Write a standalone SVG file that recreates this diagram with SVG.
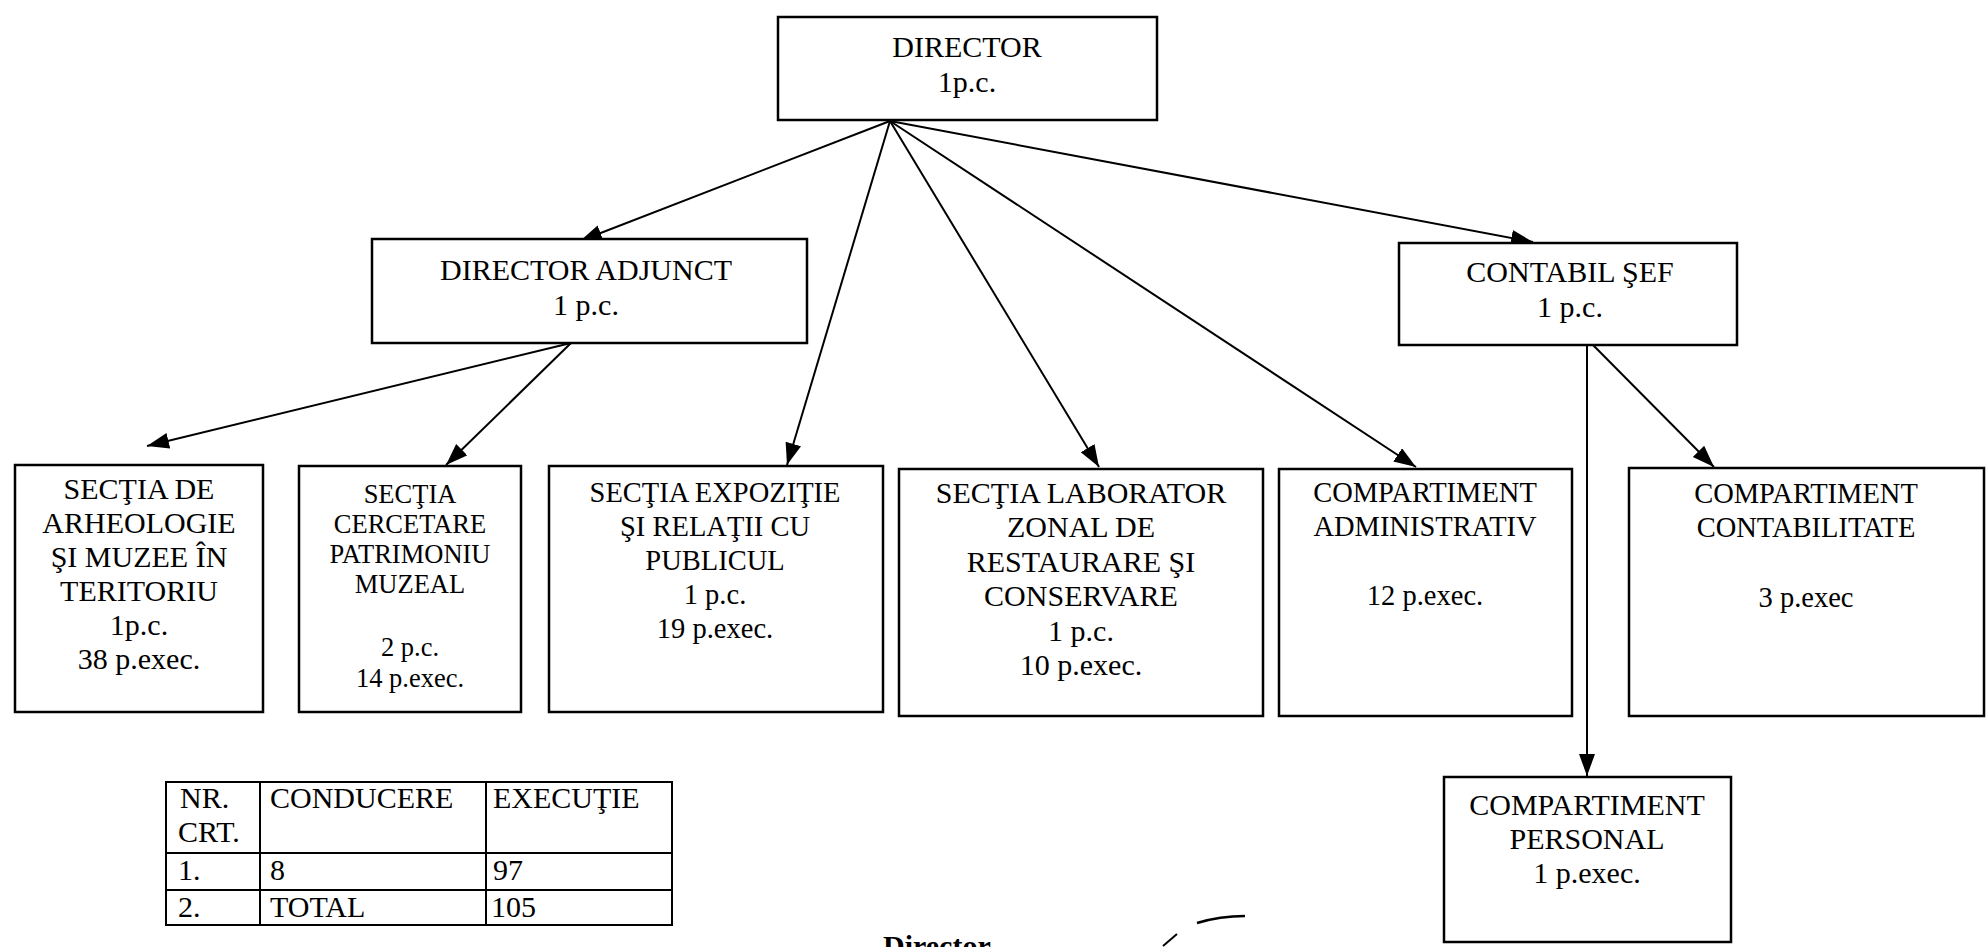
<svg xmlns="http://www.w3.org/2000/svg" width="1986" height="947" viewBox="0 0 1986 947">
<style>
.box{fill:#fff;stroke:#000;stroke-width:2.5}
.t{font-family:"Liberation Serif","Times New Roman",serif;font-size:30px;fill:#000;text-anchor:middle}
.s26{font-size:26.5px}
.s28{font-size:28.5px}
.tl{font-family:"Liberation Serif","Times New Roman",serif;font-size:30px;fill:#000}
.con{stroke:#000;stroke-width:2;fill:none;marker-end:url(#ah)}
.grid{stroke:#000;stroke-width:2;fill:none}
</style>
<defs>
<marker id="ah" markerUnits="userSpaceOnUse" markerWidth="24" markerHeight="18" refX="22" refY="8" orient="auto">
<path d="M0,0 L22,8 L0,16 z" fill="#000"/>
</marker>
</defs>
<rect width="1986" height="947" fill="#fff"/>

<g id="connectors">
<line class="con" x1="890" y1="121" x2="580" y2="241"/>
<line class="con" x1="890" y1="121" x2="787" y2="465"/>
<line class="con" x1="890" y1="121" x2="1099" y2="467"/>
<line class="con" x1="890" y1="121" x2="1416" y2="467"/>
<line class="con" x1="890" y1="121" x2="1533" y2="242"/>
<line class="con" x1="571" y1="343" x2="147" y2="446"/>
<line class="con" x1="571" y1="343" x2="446" y2="465"/>
<line class="con" x1="1587" y1="345" x2="1587" y2="776"/>
<line class="con" x1="1593" y1="345" x2="1714" y2="467"/>
</g>

<g id="director">
<rect class="box" x="778" y="17" width="379" height="103"/>
<text class="t" x="967" y="57">DIRECTOR</text>
<text class="t" x="967" y="92">1p.c.</text>
</g>

<g id="director-adjunct">
<rect class="box" x="372" y="239" width="435" height="104"/>
<text class="t" x="586" y="280">DIRECTOR ADJUNCT</text>
<text class="t" x="586" y="315">1 p.c.</text>
</g>

<g id="contabil-sef">
<rect class="box" x="1399" y="243" width="338" height="102"/>
<text class="t" x="1570" y="282">CONTABIL ŞEF</text>
<text class="t" x="1570" y="317">1 p.c.</text>
</g>

<g id="sectia-arheologie">
<rect class="box" x="15" y="465" width="248" height="247"/>
<text class="t" x="139" y="499">SECŢIA DE</text>
<text class="t" x="139" y="533">ARHEOLOGIE</text>
<text class="t" x="139" y="567">ŞI MUZEE ÎN</text>
<text class="t" x="139" y="601">TERITORIU</text>
<text class="t" x="139" y="635">1p.c.</text>
<text class="t" x="139" y="669">38 p.exec.</text>
</g>

<g id="sectia-cercetare">
<rect class="box" x="299" y="466" width="222" height="246"/>
<text class="t s26" x="410" y="503">SECŢIA</text>
<text class="t s26" x="410" y="533">CERCETARE</text>
<text class="t s26" x="410" y="563">PATRIMONIU</text>
<text class="t s26" x="410" y="593">MUZEAL</text>
<text class="t s26" x="410" y="656">2 p.c.</text>
<text class="t s26" x="410" y="687">14 p.exec.</text>
</g>

<g id="sectia-expozitie">
<rect class="box" x="549" y="466" width="334" height="246"/>
<text class="t s28" x="715" y="502">SECŢIA EXPOZIŢIE</text>
<text class="t s28" x="715" y="536">ŞI RELAŢII CU</text>
<text class="t s28" x="715" y="570">PUBLICUL</text>
<text class="t s28" x="715" y="604">1 p.c.</text>
<text class="t s28" x="715" y="638">19 p.exec.</text>
</g>

<g id="sectia-laborator">
<rect class="box" x="899" y="469" width="364" height="247"/>
<text class="t" x="1081" y="503">SECŢIA LABORATOR</text>
<text class="t" x="1081" y="537">ZONAL DE</text>
<text class="t" x="1081" y="572">RESTAURARE ŞI</text>
<text class="t" x="1081" y="606">CONSERVARE</text>
<text class="t" x="1081" y="641">1 p.c.</text>
<text class="t" x="1081" y="675">10 p.exec.</text>
</g>

<g id="compartiment-administrativ">
<rect class="box" x="1279" y="469" width="293" height="247"/>
<text class="t s28" x="1425" y="502">COMPARTIMENT</text>
<text class="t s28" x="1425" y="536">ADMINISTRATIV</text>
<text class="t s28" x="1425" y="605">12 p.exec.</text>
</g>

<g id="compartiment-contabilitate">
<rect class="box" x="1629" y="468" width="355" height="248"/>
<text class="t s28" x="1806" y="503">COMPARTIMENT</text>
<text class="t s28" x="1806" y="537">CONTABILITATE</text>
<text class="t s28" x="1806" y="607">3 p.exec</text>
</g>

<g id="compartiment-personal">
<rect class="box" x="1444" y="777" width="287" height="165"/>
<text class="t" x="1587" y="815">COMPARTIMENT</text>
<text class="t" x="1587" y="849">PERSONAL</text>
<text class="t" x="1587" y="883">1 p.exec.</text>
</g>

<g id="table">
<rect class="grid" x="166" y="782" width="506" height="143"/>
<line class="grid" x1="260" y1="782" x2="260" y2="925"/>
<line class="grid" x1="486" y1="782" x2="486" y2="925"/>
<line class="grid" x1="166" y1="853" x2="672" y2="853"/>
<line class="grid" x1="166" y1="890" x2="672" y2="890"/>
<text class="tl" x="180" y="808">NR.</text>
<text class="tl" x="178" y="842">CRT.</text>
<text class="tl" x="270" y="808">CONDUCERE</text>
<text class="tl" x="493" y="808">EXECUŢIE</text>
<text class="tl" x="178" y="880">1.</text>
<text class="tl" x="270" y="880">8</text>
<text class="tl" x="493" y="880">97</text>
<text class="tl" x="178" y="917">2.</text>
<text class="tl" x="270" y="917">TOTAL</text>
<text class="tl" x="491" y="917">105</text>
</g>

<g id="signature">
<text x="883" y="956" font-family="Liberation Serif, serif" font-size="30" font-weight="bold" fill="#000">Director</text>
<path d="M1197,923 Q1220,916 1245,916" stroke="#000" stroke-width="2.5" fill="none"/>
<path d="M1163,946 L1177,934" stroke="#000" stroke-width="2" fill="none"/>
</g>
</svg>
